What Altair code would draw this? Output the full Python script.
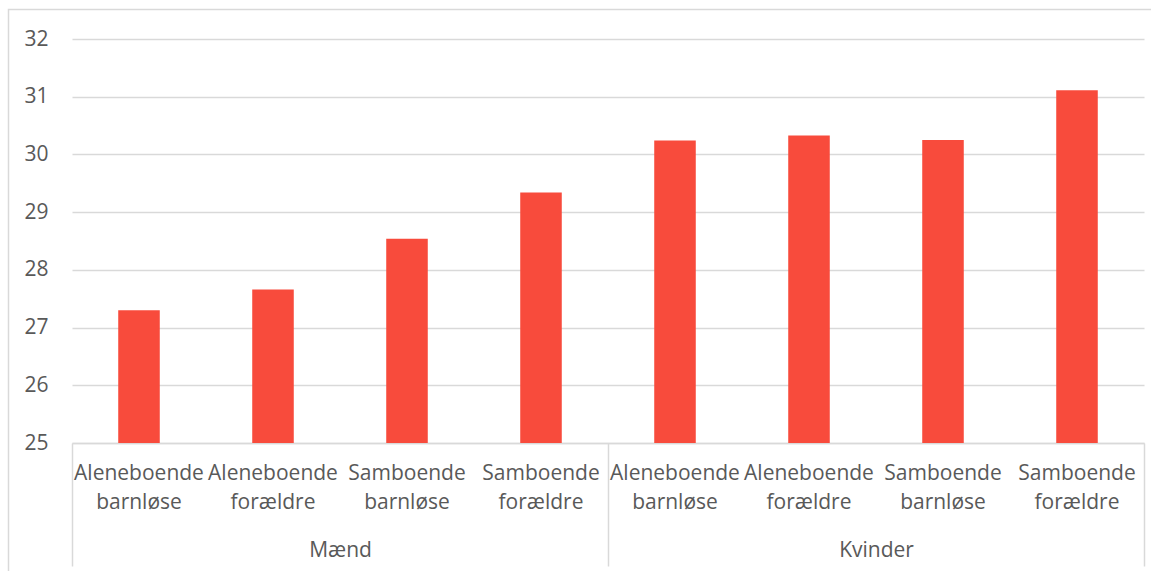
import altair as alt
import pandas as pd

# Gennemsnitlig alder fordelt på køn og husstandstype
groups = ["Mænd", "Mænd", "Mænd", "Mænd", "Kvinder", "Kvinder", "Kvinder", "Kvinder"]
households = [
    "Aleneboende barnløse", "Aleneboende forældre", "Samboende barnløse", "Samboende forældre",
    "Aleneboende barnløse", "Aleneboende forældre", "Samboende barnløse", "Samboende forældre",
]
values = [27.30, 27.66, 28.54, 29.34, 30.24, 30.33, 30.25, 31.11]
group_order = ["Mænd", "Kvinder"]
y_ticks = [25, 26, 27, 28, 29, 30, 31, 32]

df = pd.DataFrame({"gruppe": groups, "husstand": households, "vaerdi": values})
df["kategori"] = df["gruppe"] + "|" + df["husstand"]
cat_order = list(df["kategori"])

FONT = "Open Sans"
TEXT = "#595959"
LINE = "#d9d9d9"
BAR = "#F84B3C"

base = alt.Chart(df)

bars = base.mark_bar(color=BAR).encode(
    x=alt.X(
        "kategori:N",
        sort=cat_order,
        title=None,
        scale=alt.Scale(paddingInner=0.69, paddingOuter=0.345),
        axis=alt.Axis(
            orient="bottom",
            labelExpr="split(split(datum.label, '|')[1], ' ')",
            ticks=False,
            domain=True,
            domainColor=LINE,
            domainWidth=1.5,
            grid=False,
            labelAngle=0,
            labelFont=FONT,
            labelFontSize=21,
            labelColor=TEXT,
            labelPadding=19,
            labelLineHeight=29,
            labelBaseline="top",
            offset=0,
        ),
    ),
    y=alt.Y(
        "vaerdi:Q",
        title=None,
        scale=alt.Scale(domain=[25, 32], zero=False, nice=False),
        axis=alt.Axis(
            values=y_ticks,
            format="d",
            domain=False,
            ticks=False,
            tickSize=0,
            grid=True,
            gridColor=LINE,
            gridWidth=1.5,
            labelFont=FONT,
            labelFontSize=21,
            labelColor=TEXT,
            labelPadding=24,
            labelBaseline="middle",
        ),
    ),
    y2=alt.datum(25),
)

# Second category level (køn) with separators spanning the label area
group_layer = base.mark_tick(opacity=0).encode(
    x=alt.X(
        "gruppe:N",
        sort=group_order,
        title=None,
        scale=alt.Scale(paddingInner=0, paddingOuter=0),
        axis=alt.Axis(
            orient="bottom",
            tickBand="extent",
            tickSize=123,
            tickColor=LINE,
            tickWidth=1.5,
            domain=False,
            grid=False,
            labelAngle=0,
            labelFont=FONT,
            labelFontSize=21,
            labelColor=TEXT,
            labelPadding=-16,
            labelBaseline="middle",
            offset=0,
        ),
    ),
    y=alt.Y("vaerdi:Q"),
)

# Chart-area border
frame = alt.Chart(pd.DataFrame({"a": [0]})).mark_rect(
    fillOpacity=0, stroke=LINE, strokeWidth=1.5, clip=False
).encode(
    x=alt.value(-63.5), x2=alt.value(1200), y=alt.value(-29.5), y2=alt.value(700)
)

chart = (
    alt.layer(frame, bars, group_layer)
    .resolve_scale(x="independent")
    .properties(
        width=1072,
        height=404,
        autosize=alt.AutoSizeParams(type="none"),
        padding={"left": 72, "top": 39, "right": 7, "bottom": 128},
        background="white",
    )
    .configure_view(strokeWidth=0)
)

chart.save("out.html", embed_options={"renderer": "svg", "actions": False})
